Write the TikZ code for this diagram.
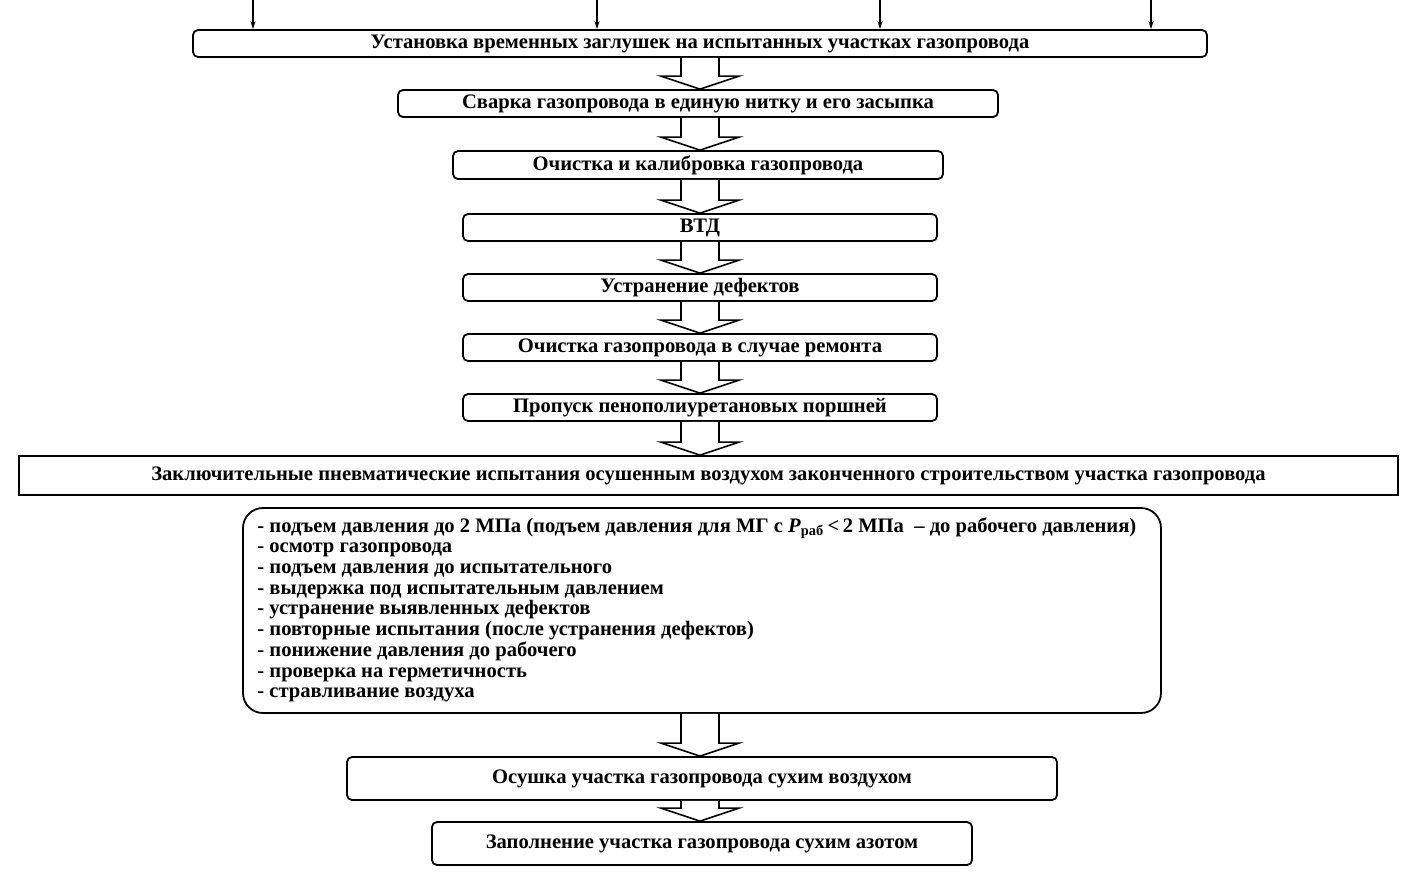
\documentclass[tikz,border=0pt]{standalone}
\usepackage{fontspec}
\setmainfont{Liberation Serif}
\usetikzlibrary{calc,arrows.meta}
\begin{document}
\begin{tikzpicture}[x=0.5pt,y=-0.5pt,
  box/.style={draw,line width=0.9pt,rounded corners=2.5pt,inner sep=0pt,
    font=\fontsize{10.3}{11}\selectfont\bfseries},
  barrow/.style={draw,line width=0.8pt,fill=white},
  feed/.style={draw,line width=0.7pt,-{Stealth[length=4pt,width=2.5pt]}},
  listtext/.style={align=left,inner sep=0pt,
    font=\fontsize{10.3}{10.35}\selectfont\bfseries}]
\useasboundingbox (0,0) rectangle (1416,879);
\coordinate (ax) at (700,0);

\node[box,minimum width=507pt,minimum height=13.5pt] (b1) at (700,43.5)
  {Установка временных заглушек на испытанных участках газопровода};
\node[box,minimum width=300pt,minimum height=13.5pt] (b2) at (698,103.5)
  {Сварка газопровода в единую нитку и его засыпка};
\node[box,minimum width=245pt,minimum height=14pt] (b3) at (698,165)
  {Очистка и калибровка газопровода};
\node[box,minimum width=237pt,minimum height=13.5pt] (b4) at (700,227.5)
  {ВТД};
\node[box,minimum width=237pt,minimum height=13.5pt] (b5) at (700,287.5)
  {Устранение дефектов};
\node[box,minimum width=237pt,minimum height=13.5pt] (b6) at (700,347.5)
  {Очистка газопровода в случае ремонта};
\node[box,minimum width=237pt,minimum height=13.5pt] (b7) at (700,407.5)
  {Пропуск пенополиуретановых поршней};
\node[box,rounded corners=0pt,minimum width=689.5pt,minimum height=19.5pt] (b8) at (708.5,475.5)
  {Заключительные пневматические испытания осушенным воздухом законченного строительством участка газопровода};
\node[box,rounded corners=10pt,minimum width=459pt,minimum height=102.5pt] (b9) at (702,610.5) {};
\node[listtext,anchor=north west] (list) at (257,517) {%
- подъем давления до 2 МПа (подъем давления для МГ с \textit{P}\textsubscript{раб}\,<\,2 МПа \ – до рабочего давления)\\
- осмотр газопровода\\
- подъем давления до испытательного\\
- выдержка под испытательным давлением\\
- устранение выявленных дефектов\\
- повторные испытания (после устранения дефектов)\\
- понижение давления до рабочего\\
- проверка на герметичность\\
- стравливание воздуха};
\node[box,minimum width=355pt,minimum height=21.5pt] (b10) at (702,778.5)
  {Осушка участка газопровода сухим воздухом};
\node[box,minimum width=270pt,minimum height=21.5pt] (b11) at (702,843.5)
  {Заполнение участка газопровода сухим азотом};

% block arrows
\foreach \a/\b in {b1/b2,b2/b3,b3/b4,b4/b5,b5/b6,b6/b7,b7/b8,b9/b10,b10/b11}{
  \draw[barrow] ($(ax|-\a.south)+(-19,0)$) -- ($(ax|-\b.north)+(-19,-13)$)
    -- ($(ax|-\b.north)+(-39,-13)$) -- (ax|-\b.north)
    -- ($(ax|-\b.north)+(39,-13)$) -- ($(ax|-\b.north)+(19,-13)$)
    -- ($(ax|-\a.south)+(19,0)$);
}

% feed arrows from top
\coordinate (t1) at (253,0);
\coordinate (t2) at (597,0);
\coordinate (t3) at (880,0);
\coordinate (t4) at (1151,0);
\foreach \t in {t1,t2,t3,t4}{
  \draw[feed] (\t) -- (\t|-b1.north);
}
\end{tikzpicture}
\end{document}
